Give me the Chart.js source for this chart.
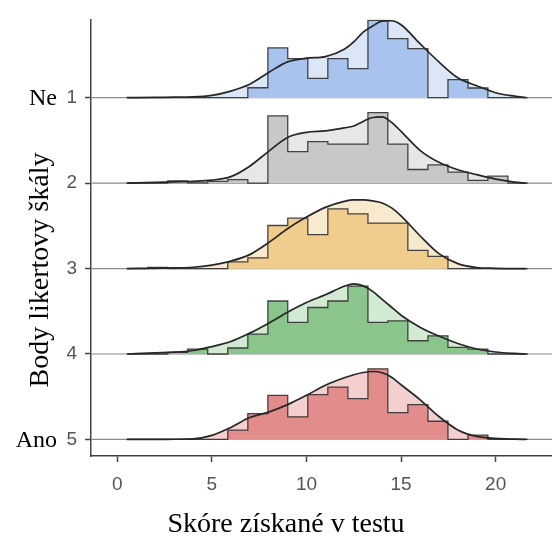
<!DOCTYPE html>
<html>
<head>
<meta charset="utf-8">
<script src="https://cdn.jsdelivr.net/npm/chart.js@4.4.1/dist/chart.umd.min.js"></script>
<style>
  html, body { margin: 0; padding: 0; background: #fff; }
</style>
</head>
<body>
<canvas id="chart" width="552" height="536"></canvas>
<script>
// likert levels, top to bottom
const levels = ['1', '2', '3', '4', '5']
const levelWords = ['Ne', '', '', '', 'Ano']
const xTicks = [0, 5, 10, 15, 20]

// histogram bin edges (score)
const binEdges = [0.55, 1.61, 2.67, 3.72, 4.78, 5.84, 6.90, 7.96, 9.01, 10.07, 11.13,
  12.19, 13.25, 14.30, 15.36, 16.42, 17.48, 18.54, 19.59, 20.65, 21.71]

// bar heights, % of the ridge spacing
const hist1 = [0, 0, 0, 0, 0, 0, 11.6, 58.2, 45.7, 22.5, 45.7, 34.1, 90.4, 69.0, 57.4, 0, 21.0, 11.3, 0, 0]
const hist2 = [0, 0, 2.7, 0.3, 2.0, 4.1, 0, 78.8, 36.9, 48.5, 45.7, 45.7, 82.6, 45.7, 15.9, 21.3, 12.8, 3.1, 8.1, 0]
const hist3 = [0, 1.2, 0, 0, 0, 7.8, 12.5, 50.4, 59.0, 39.6, 69.8, 64.0, 53.2, 53.2, 21.3, 14.3, 0, 0, 0, 0]
const hist4 = [0, 0, 2.0, 5.8, 0, 7.0, 23.3, 62.0, 36.9, 54.4, 62.0, 79.5, 36.9, 38.8, 15.5, 21.3, 7.8, 5.8, 0, 0]
const hist5 = [0, 0, 0, 0, 0, 10.8, 30.3, 51.6, 26.4, 52.4, 61.3, 47.7, 82.6, 31.4, 40.7, 21.3, 0, 5.0, 0, 0]

// density curves sampled at densX
const densX = [0.5, 2, 3, 4, 5, 6, 7, 8, 9, 10, 11, 12, 12.5, 13, 13.5, 14, 14.5, 15, 16, 17, 18, 19, 20, 21, 21.6]
const dens1 = [0, 0.3, 0.6, 0.9, 2.7, 7.7, 15.7, 29.5, 41.9, 46.2, 48.1, 56.7, 65.2, 76.8, 83.8, 89.6, 90.0, 85.3, 63.2, 41.9, 23.3, 14.0, 5.8, 1.7, 0]
const dens2 = [0, 0.8, 1.5, 2.1, 3.5, 7.6, 19.8, 37.2, 53.5, 59.4, 61.1, 64.6, 66.9, 72.2, 76.8, 77.4, 71.0, 60.5, 38.4, 24.4, 15.7, 9.9, 4.7, 1.2, 0]
const dens3 = [0, 0.3, 0.8, 1.5, 4.1, 8.7, 16.3, 30.3, 46.6, 60.2, 71.6, 78.6, 80.3, 80.3, 79.2, 76.8, 71.0, 61.7, 38.4, 17.5, 5.8, 1.2, 0.3, 0, 0]
const dens4 = [0, 1.4, 2.1, 4.1, 8.7, 14.6, 24.4, 36.1, 48.9, 60.2, 69.3, 79.2, 82.1, 79.7, 73.3, 64.0, 54.7, 45.4, 31.4, 21.0, 12.2, 5.8, 2.3, 0.6, 0]
const dens5 = [0, 0, 0.2, 0.6, 4.7, 14.0, 25.6, 32.0, 40.7, 51.6, 63.4, 72.2, 75.7, 78.3, 79.5, 78.0, 72.8, 64.0, 46.6, 26.8, 11.1, 3.5, 1.2, 0.3, 0]

const hists = [hist1, hist2, hist3, hist4, hist5]
const denses = [dens1, dens2, dens3, dens4, dens5]

const barColors = ['#a8c4ee', '#c8c8c8', '#f0cd8c', '#8ac58b', '#e28c8c']
const areaColors = ['#dbe6f7', '#e7e7e7', '#f9e9cd', '#d2ead2', '#f4cfcf']

const xMin = -1.39
const xMax = 22.98

function histPoints(h, base) {
  const pts = [{ x: binEdges[0], y: base }]
  h.forEach((v, k) => pts.push({ x: binEdges[k], y: base + v / 100 }))
  pts.push({ x: binEdges[binEdges.length - 1], y: base })
  return pts
}

function densPoints(d, base) {
  return densX.map((x, i) => ({ x: x, y: base + d[i] / 100 }))
}

const datasets = []
levels.forEach((lvl, i) => {
  const base = levels.length - 1 - i
  datasets.push({
    label: 'base ' + lvl,
    data: [{ x: xMin, y: base }, { x: xMax, y: base }],
    borderColor: '#8c8c8c',
    borderWidth: 1.2,
    pointRadius: 0,
    fill: false,
    order: 5,
  })
  datasets.push({
    label: 'density area ' + lvl,
    data: densPoints(denses[i], base),
    borderWidth: 0,
    backgroundColor: areaColors[i],
    pointRadius: 0,
    cubicInterpolationMode: 'monotone',
    fill: { value: base },
    order: 4,
  })
  datasets.push({
    label: 'histogram ' + lvl,
    data: histPoints(hists[i], base),
    stepped: true,
    borderColor: 'rgba(50,50,50,0.9)',
    borderWidth: 1.3,
    backgroundColor: barColors[i],
    pointRadius: 0,
    fill: { value: base },
    order: 2,
  })
  datasets.push({
    label: 'density ' + lvl,
    data: densPoints(denses[i], base),
    borderColor: '#262626',
    borderWidth: 1.7,
    pointRadius: 0,
    cubicInterpolationMode: 'monotone',
    fill: false,
    order: 1,
  })
})

// serif titles and the Ne / Ano words next to the numbers
const serifText = {
  id: 'serifText',
  afterDraw(chart) {
    const ctx = chart.ctx
    const y = chart.scales.y
    ctx.save()
    ctx.fillStyle = '#000'
    ctx.font = '24px "Liberation Serif"'
    ctx.textAlign = 'right'
    ctx.textBaseline = 'middle'
    levelWords.forEach((w, i) => {
      if (!w) return
      ctx.fillText(w, 57, y.getPixelForValue(levels.length - 1 - i) + 1)
    })
    ctx.font = '28px "Liberation Serif"'
    ctx.textAlign = 'center'
    ctx.textBaseline = 'alphabetic'
    ctx.fillText('Skóre získané v testu', 286, 532)
    ctx.translate(48, 270)
    ctx.rotate(-Math.PI / 2)
    ctx.fillText('Body likertovy škály', 0, 0)
    ctx.restore()
  }
}

new Chart(document.getElementById('chart'), {
  type: 'line',
  data: { datasets: datasets },
  plugins: [serifText],
  options: {
    responsive: false,
    animation: false,
    devicePixelRatio: 1,
    layout: { padding: { top: 17, right: 0, bottom: 0, left: 0 } },
    plugins: { legend: { display: false }, tooltip: { enabled: false } },
    scales: {
      x: {
        type: 'linear',
        min: xMin,
        max: xMax,
        afterBuildTicks: (s) => { s.ticks = xTicks.map((v) => ({ value: v })) },
        afterFit: (s) => { s.height = 80 },
        ticks: {
          padding: 11,
          color: '#555',
          font: { family: 'Liberation Sans', size: 19 },
        },
        grid: { drawOnChartArea: false, tickLength: 6, tickColor: '#444', tickWidth: 1.5 },
        border: { color: '#444', width: 1.5 },
      },
      y: {
        type: 'linear',
        min: -0.194,
        max: 4.916,
        afterBuildTicks: (s) => { s.ticks = levels.map((l, i) => ({ value: levels.length - 1 - i })) },
        afterFit: (s) => { s.width = 91 },
        ticks: {
          padding: 8,
          color: '#555',
          font: { family: 'Liberation Sans', size: 19 },
          callback: (v) => levels[levels.length - 1 - v],
        },
        grid: { drawOnChartArea: false, tickLength: 6, tickColor: '#444', tickWidth: 1.5 },
        border: { color: '#444', width: 1.5 },
      },
    },
  },
})
</script>
</body>
</html>
